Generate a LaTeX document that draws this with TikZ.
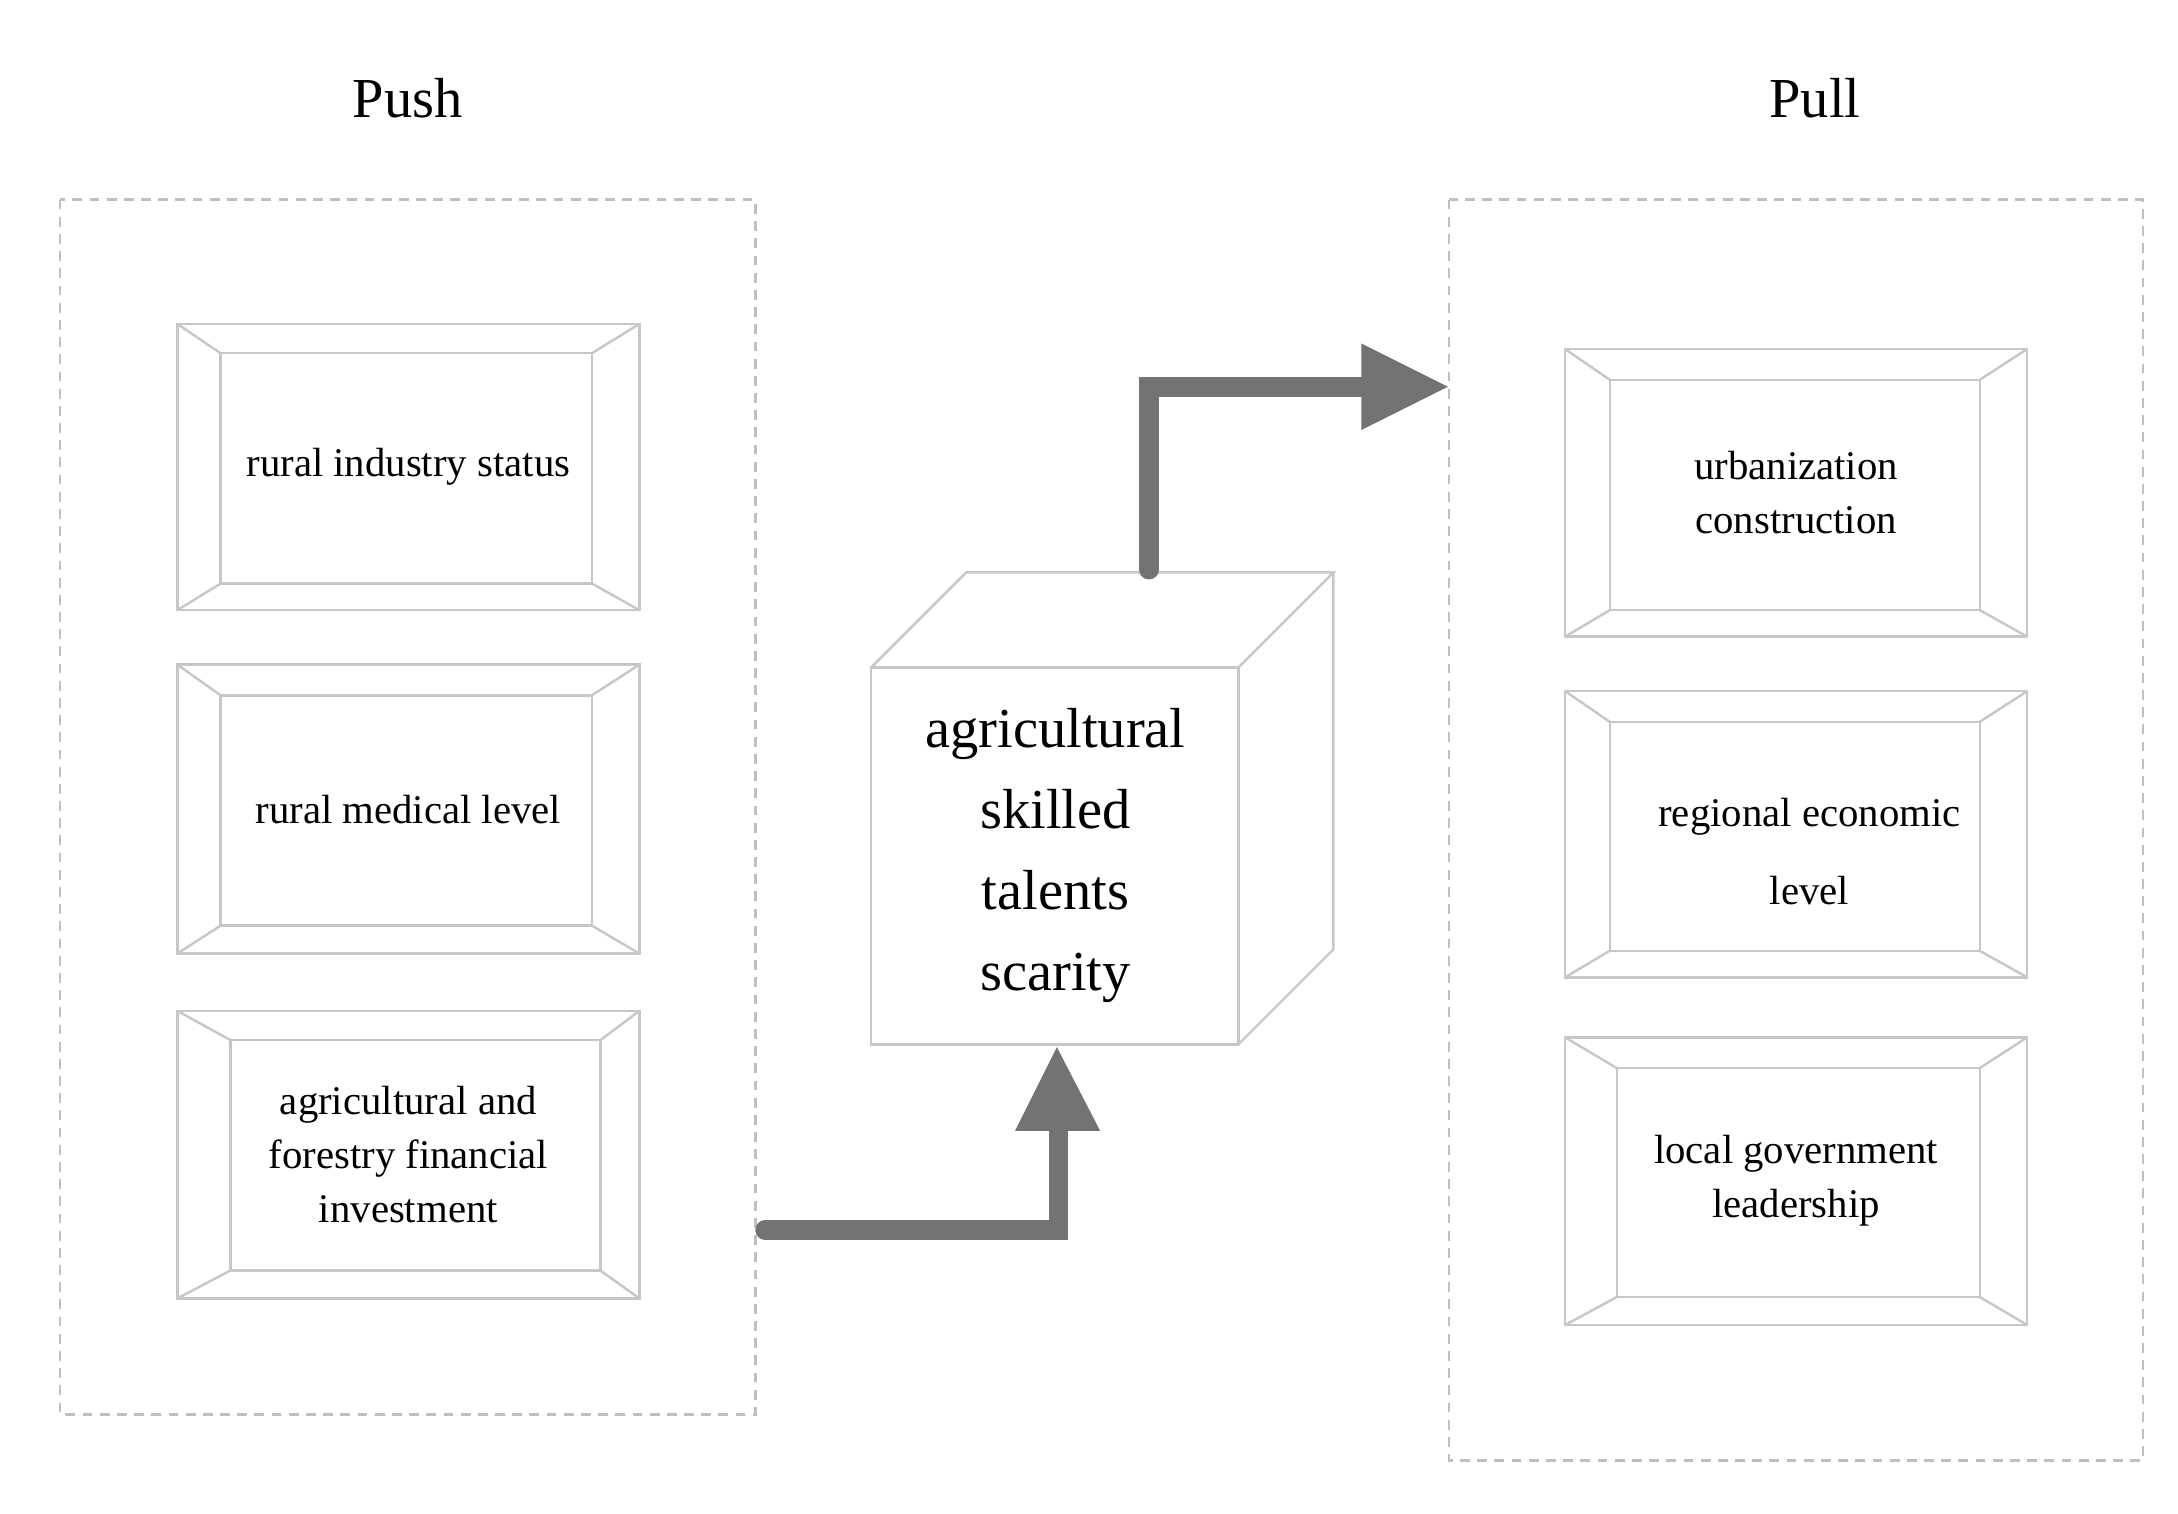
\documentclass[tikz,border=0pt]{standalone}
\usepackage{fontspec}
\setmainfont{Liberation Serif}
\begin{document}
\begin{tikzpicture}[x=0.01cm,y=-0.01cm,
  frame/.style={draw=black!22,line width=0.5pt},
  dashbox/.style={draw=black!25,dash pattern=on 2pt off 1.5pt,line width=0.5pt},
  lbl/.style={align=center,font=\fontsize{8.3}{11}\selectfont},
  big/.style={font=\fontsize{11.5}{14}\selectfont},
  fat/.style={draw=black!55,line width=0.14cm,line cap=round,line join=miter},
  head/.style={fill=black!55,draw=none}]
\useasboundingbox (0,0) rectangle (1560,1084);
\newcommand\bevel[9]{%
  \draw[frame] (#2,#3) rectangle (#4,#5);
  \draw[frame] (#6,#7) rectangle (#8,#9);
  \draw[frame] (#2,#3)--(#6,#7) (#4,#3)--(#8,#7) (#2,#5)--(#6,#9) (#4,#5)--(#8,#9);
  \coordinate (#1) at ({(#2+#4)/2},{(#3+#5)/2});}
\node[big] (push) at (292,70) {Push};
\node[big] (pull) at (1300,70) {Pull};
\draw[dashbox] (43,143) rectangle (541,1013);
\draw[dashbox] (1038,143) rectangle (1535,1046);
\bevel{b1}{127}{232}{458}{437}{158}{253}{424}{418}
\bevel{b2}{127}{476}{458}{683}{158}{498}{424}{663}
\bevel{b3}{127}{724}{458}{930}{165}{745}{430}{910}
\bevel{b4}{1121}{250}{1452}{456}{1153}{272}{1418}{437}
\bevel{b5}{1121}{495}{1452}{700}{1153}{517}{1418}{681}
\bevel{b6}{1121}{743}{1452}{949}{1158}{765}{1418}{929}
\node[lbl] at (b1) {rural industry status};
\node[lbl] at (b2) {rural medical level};
\node[lbl] at (b3) {agricultural and\\forestry financial\\investment};
\node[lbl] at (b4) {urbanization\\construction};
\node[lbl,font=\fontsize{8.3}{16}\selectfont] at (1296,610) {regional economic\\level};
\node[lbl] at (b6) {local government\\leadership};
% cube
\draw[frame] (624,478) rectangle (887,748);
\draw[frame] (624,478)--(692,410)--(955,410)--(887,478) (955,410)--(955,680)--(887,748);
\node[big,align=center,font=\fontsize{11.5}{16.5}\selectfont] (cube) at (756,613) {agricultural\\skilled\\talents\\scarity};
% arrows
\coordinate (a1s) at (548,881);
\coordinate (a1c) at (758,881);
\coordinate (a1e) at (758,808);
\draw[fat] (a1s)--(a1c)--(a1e);
\fill[head] (727,810)--(788,810)--(757,750)--cycle;
\coordinate (a2s) at (823,408);
\coordinate (a2c) at (823,277);
\coordinate (a2e) at (977,277);
\draw[fat] (a2s)--(a2c)--(a2e);
\fill[head] (975,246)--(975,308)--(1037,277)--cycle;
\end{tikzpicture}
\end{document}
